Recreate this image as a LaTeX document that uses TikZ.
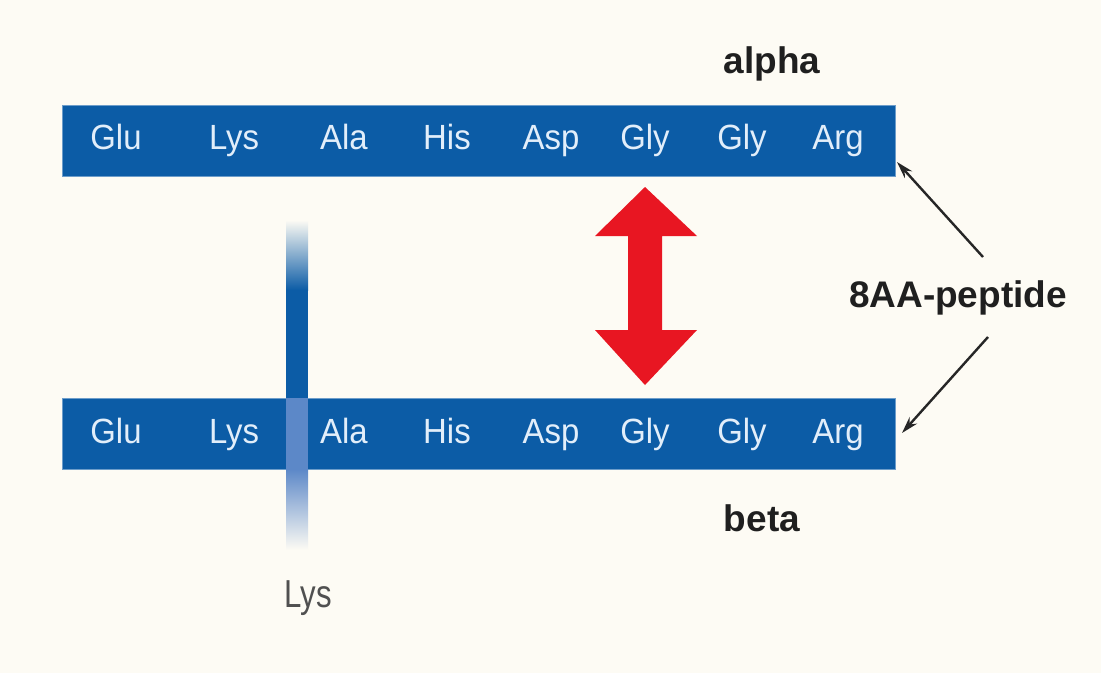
\documentclass[tikz,border=0pt]{standalone}
\usepackage{fontspec}
\setmainfont{Liberation Sans}
\newfontfamily\resfont[FakeStretch=0.94]{Liberation Sans}
\newfontfamily\lysfont[FakeStretch=0.8]{Liberation Sans}
\usetikzlibrary{arrows.meta}
\definecolor{bg}{RGB}{253,251,244}
\definecolor{barblue}{RGB}{12,92,166}
\definecolor{barlight}{RGB}{92,136,200}
\definecolor{bartext}{RGB}{226,238,250}
\definecolor{arrred}{RGB}{232,22,34}
\definecolor{lysgray}{RGB}{80,80,80}
\begin{document}
\begin{tikzpicture}[x=1pt,y=-1pt,
  chain/.style={fill=barblue,draw=barblue!60!white,line width=0.8pt,minimum width=833pt,minimum height=71pt,inner sep=0pt,anchor=north west},
  aa/.style={text=bartext,font=\resfont\fontsize{35}{36}\selectfont,anchor=base,inner sep=0pt},
  lbl/.style={font=\bfseries\fontsize{37}{38}\selectfont,text=black!88,inner sep=0pt,anchor=base},
  pointer/.style={draw=black!85,line width=2.4pt,-{Stealth[length=17pt,width=10pt]}}]
\useasboundingbox (0,0) rectangle (1101,673);
\fill[bg] (0,0) rectangle (1101,673);
% chains
\node[chain] (alphachain) at (62,105) {};
\node[chain] (betachain) at (62,398) {};
% vertical Lys side chain
\shade[top color=bg,bottom color=barblue] (286,220) rectangle (308,290);
\fill[barblue] (286,289.5) rectangle (308,398);
\fill[barlight] (286,398) rectangle (308,469);
\shade[top color=barlight,bottom color=bg] (286,469) rectangle (308,550);
% residue labels
\foreach \n/\x [count=\i] in {Glu/116,Lys/234,Ala/344,His/447,Asp/551,Gly/645,Gly/742,Arg/838}{
  \node[aa] (a\i) at (\x,149) {\n};
  \node[aa] (b\i) at (\x,443) {\n};
}
% labels
\node[lbl] (alpha) at (772,73) {alpha};
\node[lbl] (beta) at (762,531) {beta};
\node[lbl] (pep) at (958,307) {8AA-peptide};
\node[font=\lysfont\fontsize{39}{40}\selectfont,text=lysgray,inner sep=0pt,anchor=base] (lys) at (308,607) {Lys};
% red double arrow
\fill[arrred] (645,187) -- (697,236) -- (662,236) -- (662,330) -- (697,330)
  -- (645,385) -- (595,330) -- (628,330) -- (628,236) -- (595,236) -- cycle;
% pointers
\coordinate (p1s) at (983,257);
\coordinate (p1e) at (897,162);
\coordinate (p2s) at (988,337);
\coordinate (p2e) at (902,433);
\draw[pointer] (p1s) -- (p1e);
\draw[pointer] (p2s) -- (p2e);
\end{tikzpicture}
\end{document}
